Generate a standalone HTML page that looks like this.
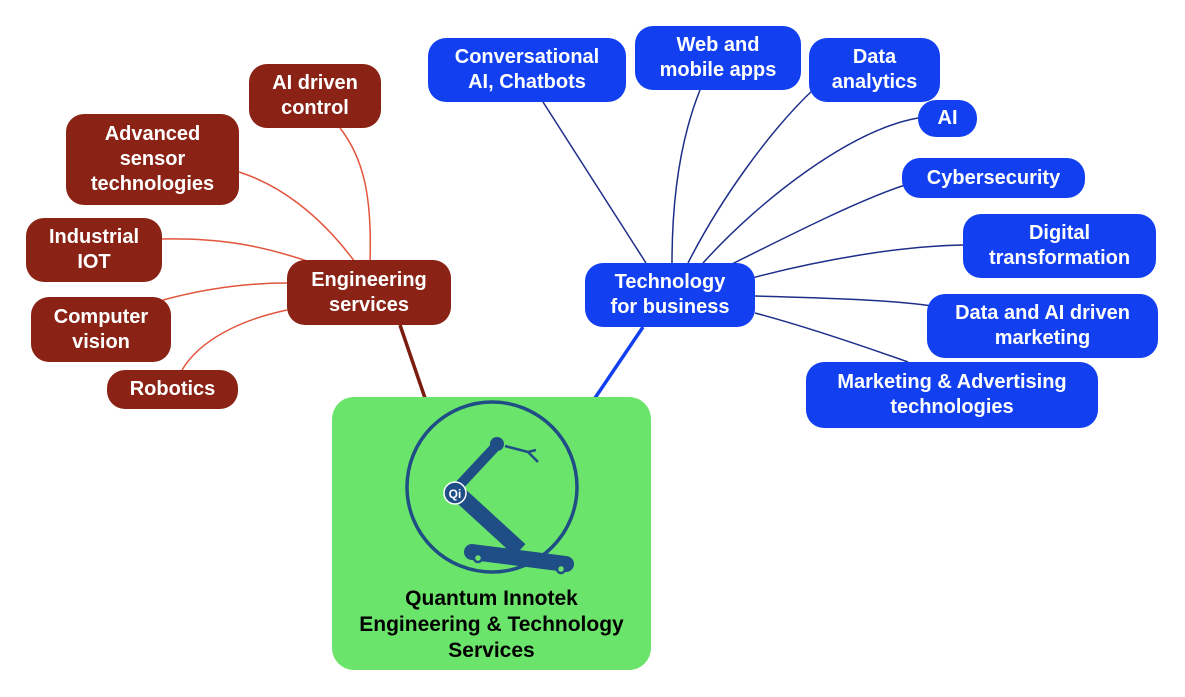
<!DOCTYPE html>
<html><head><style>
body{margin:0;width:1185px;height:697px;background:#fff;position:relative;overflow:hidden;font-family:"Liberation Sans",sans-serif;}
.n{position:absolute;display:flex;align-items:center;justify-content:center;text-align:center;color:#fff;font-weight:bold;font-size:20px;line-height:25px;box-sizing:border-box;}
.b{background:#8a2315;border-radius:18px;}
.u{background:#1240f0;border-radius:18px;}
svg{position:absolute;left:0;top:0;}
</style></head><body>
<svg width="1185" height="697">
<g fill="none" stroke="#e2553d" stroke-width="1.5">
<path d="M370 262 C372 200 365 160 340 128"/>
<path d="M355 262 C320 215 280 185 239 172"/>
<path d="M310 262 C260 245 220 238 162 239"/>
<path d="M287 283 C240 283 200 290 163 300"/>
<path d="M287 310 C240 320 200 340 182 370"/>
</g>
<path d="M400 325 L425 398" stroke="#7a1c10" stroke-width="3.5"/>
<path d="M643 327 L595 398" stroke="#1240f0" stroke-width="3.5"/>
<g fill="none" stroke="#1e2f8a" stroke-width="1.5">
<path d="M646 263 L543 102"/>
<path d="M672 263 C672 200 680 140 700 90"/>
<path d="M688 263 C720 200 770 130 815 88"/>
<path d="M703 263 C760 200 850 130 918 118"/>
<path d="M730 265 C800 230 860 200 905 185"/>
<path d="M752 278 C820 260 900 246 963 245"/>
<path d="M755 296 C830 298 890 300 932 306"/>
<path d="M755 313 C800 325 860 345 908 362"/>
</g>
</svg>
<div class="n b" style="left:249px;top:64px;width:132px;height:64px;">AI driven<br>control</div>
<div class="n b" style="left:66px;top:114px;width:173px;height:91px;">Advanced<br>sensor<br>technologies</div>
<div class="n b" style="left:26px;top:218px;width:136px;height:64px;">Industrial<br>IOT</div>
<div class="n b" style="left:31px;top:297px;width:140px;height:65px;">Computer<br>vision</div>
<div class="n b" style="left:107px;top:370px;width:131px;height:39px;">Robotics</div>
<div class="n b" style="left:287px;top:260px;width:164px;height:65px;">Engineering<br>services</div>
<div class="n u" style="left:585px;top:263px;width:170px;height:64px;">Technology<br>for business</div>
<div class="n u" style="left:428px;top:38px;width:198px;height:64px;">Conversational<br>AI, Chatbots</div>
<div class="n u" style="left:635px;top:26px;width:166px;height:64px;">Web and<br>mobile apps</div>
<div class="n u" style="left:809px;top:38px;width:131px;height:64px;">Data<br>analytics</div>
<div class="n u" style="left:918px;top:100px;width:59px;height:37px;">AI</div>
<div class="n u" style="left:902px;top:158px;width:183px;height:40px;">Cybersecurity</div>
<div class="n u" style="left:963px;top:214px;width:193px;height:64px;">Digital<br>transformation</div>
<div class="n u" style="left:927px;top:294px;width:231px;height:64px;">Data and AI driven<br>marketing</div>
<div class="n u" style="left:806px;top:362px;width:292px;height:66px;">Marketing &amp; Advertising<br>technologies</div>
<div style="position:absolute;left:332px;top:397px;width:319px;height:273px;background:#6be46b;border-radius:22px;"></div>
<svg width="1185" height="697">
<g fill="#1f4e86" stroke="#1f4e86">
<circle cx="492" cy="487" r="85" fill="none" stroke-width="3.5"/>
<path d="M497 445 L455 490" stroke-width="10" stroke-linecap="round"/>
<path d="M460 495 L520 550" stroke-width="16"/>
<path d="M472 552 L566 564" stroke-width="16" stroke-linecap="round"/>
<circle cx="478" cy="558" r="4" fill="#6be46b" stroke-width="2.5"/>
<circle cx="561" cy="569" r="4" fill="#6be46b" stroke-width="2.5"/>
<circle cx="497" cy="444" r="7" stroke="none"/>
<path d="M505 446 L528 452 M528 452 L536 450 M528 452 L538 462" fill="none" stroke-width="2.5"/>
<circle cx="455" cy="493" r="11" stroke="#fff" stroke-width="1.5"/>
<text x="455" y="498" fill="#fff" stroke="none" font-family="Liberation Sans" font-weight="bold" font-size="12" text-anchor="middle">Qi</text>
</g>
</svg>
<div class="n" style="left:332px;top:586px;width:319px;height:78px;color:#000;font-size:21px;line-height:26px;">Quantum Innotek<br>Engineering &amp; Technology<br>Services</div>
</body></html>
